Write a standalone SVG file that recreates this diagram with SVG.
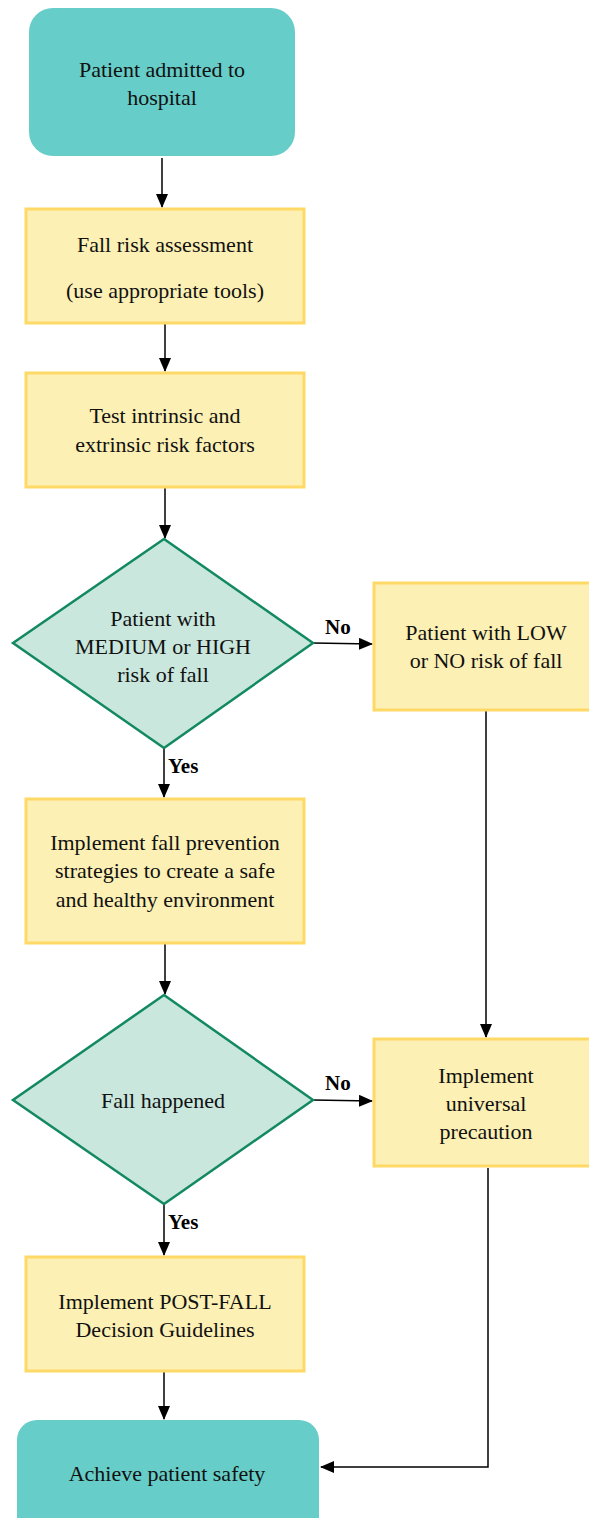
<svg xmlns="http://www.w3.org/2000/svg" width="589" height="1518" viewBox="0 0 589 1518">
<defs>
<marker id="ah" markerWidth="14" markerHeight="12" refX="13" refY="6" orient="auto" markerUnits="userSpaceOnUse">
<path d="M0,0 L14,6 L0,12 Z" fill="#000"/>
</marker>
<style>
.t{font-family:"Liberation Serif",serif;font-size:22px;fill:#111;text-anchor:middle}
.lb{font-family:"Liberation Serif",serif;font-size:21px;font-weight:bold;fill:#000}
.term{fill:#66CDC8}
.box{fill:#FCF0B4;stroke:#FFD966;stroke-width:3}
.dia{fill:#C9E7DD;stroke:#12895F;stroke-width:2.5}
.c{fill:none;stroke:#000;stroke-width:1.5}
</style>
</defs>
<g id="connectors">
<line class="c" x1="162" y1="158" x2="162" y2="207" marker-end="url(#ah)"/>
<line class="c" x1="165" y1="324" x2="165" y2="371" marker-end="url(#ah)"/>
<line class="c" x1="165" y1="488" x2="165" y2="538" marker-end="url(#ah)"/>
<line class="c" x1="313" y1="643" x2="372" y2="644" marker-end="url(#ah)"/>
<line class="c" x1="164" y1="748" x2="164" y2="797" marker-end="url(#ah)"/>
<line class="c" x1="165" y1="944" x2="165" y2="994" marker-end="url(#ah)"/>
<line class="c" x1="486" y1="711" x2="486" y2="1037" marker-end="url(#ah)"/>
<line class="c" x1="313" y1="1100" x2="372" y2="1101" marker-end="url(#ah)"/>
<line class="c" x1="164" y1="1204" x2="164" y2="1255" marker-end="url(#ah)"/>
<line class="c" x1="164" y1="1372" x2="164" y2="1419" marker-end="url(#ah)"/>
<polyline class="c" points="488,1168 488,1467 321,1467" marker-end="url(#ah)"/>
<text class="lb" x="325" y="634">No</text>
<text class="lb" x="168" y="773">Yes</text>
<text class="lb" x="325" y="1090">No</text>
<text class="lb" x="168" y="1229">Yes</text>
</g>
<g id="start">
<rect class="term" x="29" y="8" width="266" height="148" rx="24"/>
<text class="t" x="162" y="77">Patient admitted to</text>
<text class="t" x="162" y="105">hospital</text>
</g>
<g id="assess">
<rect class="box" x="26" y="209" width="278" height="114"/>
<text class="t" x="165" y="252">Fall risk assessment</text>
<text class="t" x="165" y="298">(use appropriate tools)</text>
</g>
<g id="test">
<rect class="box" x="26" y="373" width="278" height="114"/>
<text class="t" x="165" y="423">Test intrinsic and</text>
<text class="t" x="165" y="452">extrinsic risk factors</text>
</g>
<g id="risk">
<polygon class="dia" points="164,539 313,643 164,748 13,643"/>
<text class="t" x="163" y="626">Patient with</text>
<text class="t" x="163" y="654">MEDIUM or HIGH</text>
<text class="t" x="163" y="682">risk of fall</text>
</g>
<g id="low">
<rect class="box" x="374" y="583" width="220" height="127"/>
<text class="t" x="486" y="640">Patient with LOW</text>
<text class="t" x="486" y="668">or NO risk of fall</text>
</g>
<g id="prevent">
<rect class="box" x="26" y="799" width="278" height="144"/>
<text class="t" x="165" y="850">Implement fall prevention</text>
<text class="t" x="165" y="878">strategies to create a safe</text>
<text class="t" x="165" y="907">and healthy environment</text>
</g>
<g id="fall">
<polygon class="dia" points="164,995 313,1100 164,1204 13,1100"/>
<text class="t" x="163" y="1108">Fall happened</text>
</g>
<g id="universal">
<rect class="box" x="374" y="1039" width="220" height="127"/>
<text class="t" x="486" y="1083">Implement</text>
<text class="t" x="486" y="1111">universal</text>
<text class="t" x="486" y="1139">precaution</text>
</g>
<g id="postfall">
<rect class="box" x="26" y="1257" width="278" height="114"/>
<text class="t" x="165" y="1309">Implement POST-FALL</text>
<text class="t" x="165" y="1337">Decision Guidelines</text>
</g>
<g id="end">
<rect class="term" x="17" y="1420" width="302" height="120" rx="20"/>
<text class="t" x="167" y="1481">Achieve patient safety</text>
</g>
</svg>
